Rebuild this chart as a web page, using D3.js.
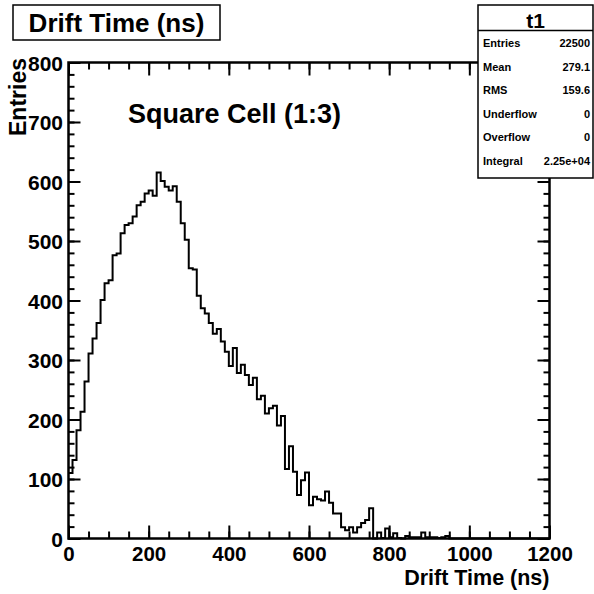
<!DOCTYPE html>
<html>
<head>
<meta charset="utf-8">
<script src="https://cdn.jsdelivr.net/npm/d3@7"></script>
<style>
  html, body { margin: 0; padding: 0; background: #fff; }
  svg { display: block; }
  text { font-family: "Liberation Sans", Arial, Helvetica, sans-serif; font-weight: bold; fill: #000; }
</style>
</head>
<body>
<script>
// ---- data ----
const binStart = 0;
const binWidth = 10;
const counts = [
  110,132,182,213,264,311,336,362,401,429,
  434,476,479,513,527,530,541,560,566,580,
  585,576,615,601,591,585,592,566,530,502,
  454,452,408,387,378,362,344,352,331,314,
  290,320,278,292,275,258,270,234,240,210,
  219,223,190,206,117,155,112,73,98,111,
  56,70,66,64,79,60,42,42,19,14,
  19,10,19,26,31,51,0,10,1,17,
  2,9,1,0,4,2,2,2,10,2,
  2,2,1,2,4,0,0,0,0,0,
  0,0,0,0,0,0,0,0,0,0,
  0,0,0,0,0,0,0,0,0,0
];
const xTicks = [0, 200, 400, 600, 800, 1000, 1200];
const yTicks = [0, 100, 200, 300, 400, 500, 600, 700, 800];
const xDomain = [0, 1200];
const yDomain = [0, 800];
const statLabels = ["Entries", "Mean", "RMS", "Underflow", "Overflow", "Integral"];
const statValues = ["22500", "279.1", "159.6", "0", "0", "2.25e+04"];
const histName = "t1";
const titleText = "Drift Time (ns)";
const xTitle = "Drift Time (ns)";
const yTitle = "Entries";
const annotation = "Square Cell (1:3)";

// ---- layout ----
const W = 594, H = 594;
const L = 68.5, R = 549.5, T = 62.5, B = 538.5;

const svg = d3.select("body").append("svg").attr("width", W).attr("height", H);
svg.append("rect").attr("width", W).attr("height", H).attr("fill", "#fff");

const x = d3.scaleLinear().domain(xDomain).range([L, R]);
const y = d3.scaleLinear().domain(yDomain).range([B, T]);

// histogram path
const pts = [];
counts.forEach((c, i) => {
  const x0 = binStart + i * binWidth;
  pts.push([x0, c]);
  pts.push([x0 + binWidth, c]);
});
const line = d3.line().x(d => x(d[0])).y(d => y(d[1]));
svg.append("path").datum(pts).attr("d", line)
  .attr("fill", "none").attr("stroke", "#000").attr("stroke-width", 2);

// minor ticks
const xMinor = d3.range(xDomain[0], xDomain[1] + 1, 50);
const yMinor = d3.range(yDomain[0], yDomain[1] + 1, 20);

function styleAxis(g) {
  g.select(".domain").remove();
  g.selectAll("line").attr("stroke", "#000").attr("stroke-width", 2);
}

// bottom
svg.append("g").attr("transform", `translate(0,${B})`)
  .call(d3.axisBottom(x).tickValues(xMinor).tickSize(-7).tickFormat(""))
  .call(styleAxis);
const gxb = svg.append("g").attr("transform", `translate(0,${B})`)
  .call(d3.axisBottom(x).tickValues(xTicks).tickSize(-13).tickPadding(8).tickFormat(d3.format("d")))
  .call(styleAxis);
gxb.selectAll("text").attr("font-size", 20.5).attr("font-family", null);
// top
svg.append("g").attr("transform", `translate(0,${T})`)
  .call(d3.axisTop(x).tickValues(xMinor).tickSize(-7).tickFormat(""))
  .call(styleAxis);
svg.append("g").attr("transform", `translate(0,${T})`)
  .call(d3.axisTop(x).tickValues(xTicks).tickSize(-13).tickFormat(""))
  .call(styleAxis);
// left
svg.append("g").attr("transform", `translate(${L},0)`)
  .call(d3.axisLeft(y).tickValues(yMinor).tickSize(-6).tickFormat(""))
  .call(styleAxis);
const gyl = svg.append("g").attr("transform", `translate(${L},0)`)
  .call(d3.axisLeft(y).tickValues(yTicks).tickSize(-12).tickPadding(5.5).tickFormat(d3.format("d")))
  .call(styleAxis);
gyl.selectAll("text").attr("font-size", 21).attr("font-family", null).attr("dy", "0.36em");
// right
svg.append("g").attr("transform", `translate(${R},0)`)
  .call(d3.axisRight(y).tickValues(yMinor).tickSize(-6).tickFormat(""))
  .call(styleAxis);
svg.append("g").attr("transform", `translate(${R},0)`)
  .call(d3.axisRight(y).tickValues(yTicks).tickSize(-12).tickFormat(""))
  .call(styleAxis);

// frame
svg.append("rect").attr("x", L).attr("y", T).attr("width", R - L).attr("height", B - T)
  .attr("fill", "none").attr("stroke", "#000").attr("stroke-width", 2.5);

// axis titles
svg.append("text").attr("x", R).attr("y", 585).attr("text-anchor", "end")
  .attr("font-size", 21.5).text(xTitle);
svg.append("text").attr("transform", `translate(26,58) rotate(-90)`)
  .attr("text-anchor", "end").attr("font-size", 23).text(yTitle);

// annotation
svg.append("text").attr("x", 128).attr("y", 123).attr("font-size", 27).text(annotation);

// title box
svg.append("rect").attr("x", 13).attr("y", 5).attr("width", 207).attr("height", 35)
  .attr("fill", "#fff").attr("stroke", "#000").attr("stroke-width", 1.5);
svg.append("text").attr("x", 116.5).attr("y", 32).attr("text-anchor", "middle")
  .attr("font-size", 26).text(titleText);

// stats box
const sx = 478, sy = 5, sw = 115, sh = 173;
svg.append("rect").attr("x", sx).attr("y", sy).attr("width", sw).attr("height", sh)
  .attr("fill", "#fff").attr("stroke", "#000").attr("stroke-width", 1.5);
svg.append("line").attr("x1", sx).attr("x2", sx + sw).attr("y1", 30.5).attr("y2", 30.5)
  .attr("stroke", "#000").attr("stroke-width", 1.5);
svg.append("text").attr("x", sx + sw / 2).attr("y", 27.5).attr("text-anchor", "middle")
  .attr("font-size", 21).text(histName);
statLabels.forEach((lab, i) => {
  const yy = 43 + i * 23.6;
  svg.append("text").attr("x", 483).attr("y", yy).attr("dy", "0.36em")
    .attr("font-size", 11).text(lab);
  svg.append("text").attr("x", 590).attr("y", yy).attr("dy", "0.36em")
    .attr("text-anchor", "end").attr("font-size", 11).text(statValues[i]);
});
</script>
</body>
</html>
